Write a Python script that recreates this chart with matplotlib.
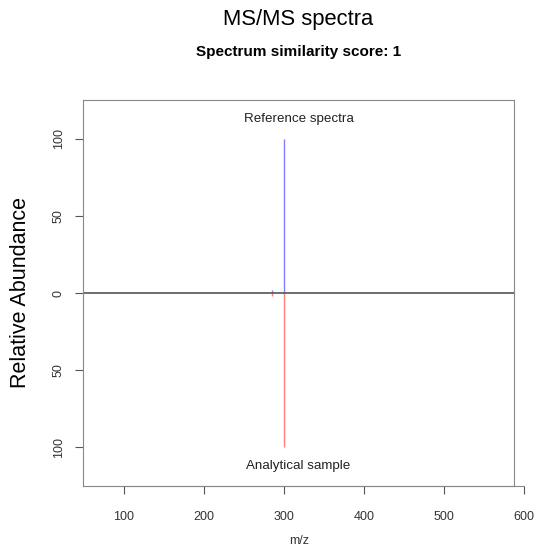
import numpy as np
import matplotlib.pyplot as plt

plt.rcParams['font.family'] = ['Liberation Sans', 'DejaVu Sans']

# reference (top) and sample (bottom) peaks
ref_mz = [285.1, 300.0]
ref_int = [2.0, 100.0]
smp_mz = [285.1, 300.0]
smp_int = [2.0, 100.0]

xticks = [100, 200, 300, 400, 500, 600]
yticks = [100, 50, 0, -50, -100]
ytick_labels = ["100", "50", "0", "50", "100"]

W, H = 537, 550
x0, x1 = 48.75, 587.5
left, right, top, bottom = 83, 514, 100, 486
cx = (left + right) / 2 / W

fig = plt.figure(figsize=(W / 100, H / 100), dpi=100)
ax = fig.add_axes([left / W, 1 - bottom / H, (right - left) / W, (bottom - top) / H])

ax.vlines(ref_mz, 0, ref_int, color="#7f7fff", lw=1)
ax.vlines(smp_mz, 0, [-v for v in smp_int], color="#ff7f7f", lw=1)
ax.axhline(0, color="#555555", lw=1.2)

ax.set_xticks([])
ax.set_yticks(yticks)
ax.set_yticklabels(ytick_labels, rotation=90, va="center")
ax.set_xlim(x0, x1)
ax.set_ylim(-125.3, 125.3)
for s in ax.spines.values():
    s.set_color("#888888")
ax.tick_params(colors="#555555", labelcolor="#333333", labelsize=9, length=6, pad=7)

# R-style bottom axis that runs on to the 600 tick
ppu = (right - left) / (x1 - x0)
ext_right = left + (600 - x0) * ppu + 1
axb = fig.add_axes([left / W, 1 - bottom / H, (ext_right - left) / W, 0.0001])
axb.set_xlim(x0, 600 + 1 / ppu)
axb.set_xticks(xticks)
axb.set_yticks([])
for k in ["top", "left", "right"]:
    axb.spines[k].set_visible(False)
axb.spines["bottom"].set_bounds(100, 600)
axb.spines["bottom"].set_color("#888888")
axb.patch.set_visible(False)
axb.tick_params(colors="#555555", labelcolor="#333333", labelsize=9, length=6, pad=12)

ax.text(0.5, 1 - 19 / 386, "Reference spectra", transform=ax.transAxes,
        ha="center", va="center", fontsize=9.6, color="#222222")
ax.text(0.5, 20 / 386, "Analytical sample", transform=ax.transAxes,
        ha="center", va="center", fontsize=9.6, color="#222222")

fig.text(21 / W, 1 - 293 / H, "Relative Abundance", rotation=90, ha="center", va="center",
         fontsize=15.5)
fig.text(299 / W, 1 - 541 / H, "m/z", ha="center", va="center", fontsize=9, color="#333333")

fig.text(cx, 1 - 20 / H, "MS/MS spectra", ha="center", va="center", fontsize=15.8)
fig.text(cx, 1 - 52 / H, "Spectrum similarity score: 1", ha="center", va="center",
         fontsize=11, fontweight="bold")

fig.savefig("out.png", dpi=100)
